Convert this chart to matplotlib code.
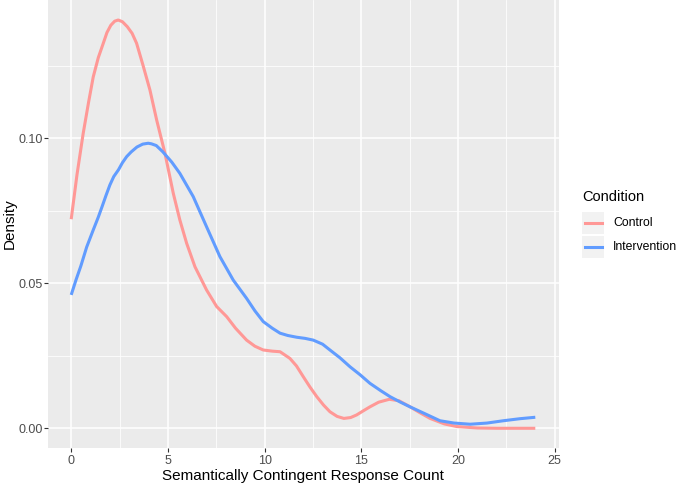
import matplotlib.pyplot as plt
from matplotlib.lines import Line2D
from matplotlib.patches import Rectangle

plt.rcParams['font.family'] = ['Liberation Sans', 'DejaVu Sans']

# density curves
control_x = [0, 0.3, 0.62, 0.9, 1.14, 1.4, 1.66, 1.85, 2.05, 2.25, 2.43, 2.65, 2.9, 3.15,
             3.38, 3.7, 4.07, 4.42, 4.85, 5.28, 5.62, 5.97, 6.4, 7.0, 7.52, 8.04, 8.5,
             9.07, 9.5, 9.93, 10.4, 10.8, 11.31, 11.65, 12.0, 12.35, 12.7, 13.05, 13.38,
             13.75, 14.1, 14.45, 14.76, 15.1, 15.45, 15.9, 16.45, 16.95, 17.5, 18.0,
             18.56, 19.3, 19.94, 21.0, 22.0, 24.0]
control_y = [0.0721, 0.0875, 0.1017, 0.1125, 0.1212, 0.1278, 0.1328, 0.1365, 0.1390,
             0.1404, 0.1408, 0.1402, 0.1385, 0.1362, 0.1328, 0.1255, 0.1167, 0.1063,
             0.0948, 0.0810, 0.0718, 0.0638, 0.0557, 0.0477, 0.0420, 0.0385, 0.0345,
             0.0304, 0.0283, 0.0270, 0.0266, 0.0264, 0.0241, 0.0215, 0.0178, 0.0142,
             0.0109, 0.0080, 0.0057, 0.0041, 0.0034, 0.0037, 0.0046, 0.0060, 0.0074,
             0.0090, 0.0100, 0.0095, 0.0075, 0.0055, 0.0034, 0.0015, 0.0006, 0.0001,
             0.0, 0.0]

intervention_x = [0, 0.25, 0.5, 0.8, 1.14, 1.4, 1.6, 1.8, 2.0, 2.2, 2.45, 2.65, 2.87,
                  3.1, 3.4, 3.7, 3.98, 4.15, 4.4, 4.73, 5.2, 5.62, 6.31, 7.0, 7.69, 8.38,
                  9.07, 9.5, 9.93, 10.4, 10.8, 11.2, 11.66, 12.1, 12.52, 13.0, 13.38,
                  13.9, 14.42, 14.95, 15.45, 16.0, 16.49, 17.0, 17.52, 18.3, 19.07, 19.8,
                  20.63, 21.5, 22.35, 23.2, 24.0]
intervention_y = [0.0460, 0.0512, 0.0560, 0.0625, 0.0684, 0.0728, 0.0765, 0.0803, 0.0839,
                  0.0868, 0.0892, 0.0916, 0.0937, 0.0953, 0.0970, 0.0980, 0.0983, 0.0981,
                  0.0975, 0.0954, 0.0918, 0.0879, 0.0799, 0.0695, 0.0592, 0.0511, 0.0448,
                  0.0405, 0.0368, 0.0345, 0.0328, 0.0320, 0.0314, 0.0310, 0.0304, 0.0290,
                  0.0270, 0.0243, 0.0212, 0.0184, 0.0155, 0.0130, 0.0109, 0.0091, 0.0074,
                  0.0050, 0.0026, 0.0018, 0.0014, 0.0018, 0.0026, 0.0033, 0.0038]

conditions = ['Control', 'Intervention']
colors = ['#FF9896', '#619CFF']

W, H = 676, 484
fig = plt.figure(figsize=(W / 100, H / 100), dpi=100)
ax = fig.add_axes([48 / W, 36 / H, 510.5 / W, 448 / H])
ax.set_facecolor('#EBEBEB')

ax.plot(control_x, control_y, color=colors[0], lw=2.2, solid_capstyle='butt', zorder=3)
ax.plot(intervention_x, intervention_y, color=colors[1], lw=2.2, solid_capstyle='butt', zorder=3)

ax.set_xlim(-1.2, 25.2)
ax.set_ylim(-0.0068, 0.1477)
ax.set_xticks([0, 5, 10, 15, 20, 25])
ax.set_xticks([2.5, 7.5, 12.5, 17.5, 22.5], minor=True)
ax.set_yticks([0.0, 0.05, 0.10])
ax.set_yticklabels(['0.00', '0.05', '0.10'])
ax.set_yticks([0.025, 0.075, 0.125], minor=True)
ax.grid(which='major', color='white', lw=1.1)
ax.grid(which='minor', color='white', lw=0.55)
ax.set_axisbelow(True)
for s in ax.spines.values():
    s.set_visible(False)
ax.tick_params(which='major', length=2.9, width=0.8, color='#333333',
               labelcolor='#4D4D4D', labelsize=9)
ax.tick_params(axis='x', pad=1.8)
ax.tick_params(axis='y', pad=0.6)
ax.tick_params(which='minor', length=0)

ax.set_xlabel('Semantically Contingent Response Count', fontsize=11, labelpad=1.5)
ax.set_ylabel('Density', fontsize=11, labelpad=1.5)

# legend drawn by hand, ggplot style
fig.text(582 / W, 1 - 197 / H, 'Condition', fontsize=10.5, va='center', ha='left')
for i, (name, c) in enumerate(zip(conditions, colors)):
    yc = 223 + i * 24
    fig.add_artist(Rectangle((582 / W, 1 - (yc + 11) / H), 22 / W, 22 / H,
                             transform=fig.transFigure, facecolor='#F2F2F2',
                             edgecolor='none'))
    fig.add_artist(Line2D([585 / W, 602 / W], [1 - yc / H, 1 - yc / H],
                          transform=fig.transFigure, color=c, lw=2.2))
    fig.text(613 / W, 1 - yc / H, name, fontsize=8.8, va='center', ha='left')

fig.savefig('out.png', dpi=100)
